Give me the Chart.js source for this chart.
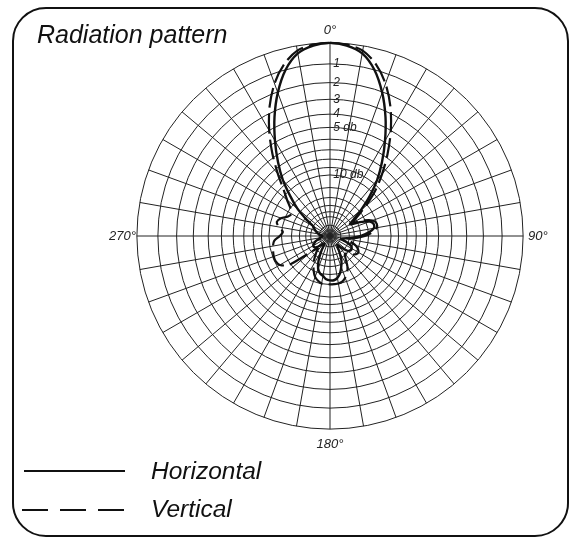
<!DOCTYPE html>
<html>
<head>
<meta charset="utf-8">
<title>Radiation pattern</title>
<script src="https://cdn.jsdelivr.net/npm/chart.js@4.4.1/dist/chart.umd.min.js"></script>
<style>
  html, body { margin: 0; padding: 0; background: #fff; }
  body { width: 572px; height: 539px; position: relative; overflow: hidden; font-family: "Liberation Sans", Arial, sans-serif; color: #111; }
  .frame { position: absolute; left: 12px; top: 7px; width: 557px; height: 530px; box-sizing: border-box; border: 2px solid #111; border-radius: 34px; }
  #chartBox { position: absolute; left: 0; top: 0; width: 572px; height: 539px; }
  .title { position: absolute; left: 37px; top: 22px; font-size: 25px; line-height: 25px; font-style: italic; white-space: nowrap; }
  .legend-text { position: absolute; left: 151px; font-size: 24.5px; line-height: 25px; font-style: italic; white-space: nowrap; }
  .legend-lines { position: absolute; left: 0; top: 450px; }
</style>
</head>
<body>
<div class="frame"></div>
<div id="chartBox"><canvas id="radiationChart" width="572" height="539"></canvas></div>
<div class="title">Radiation pattern</div>
<svg class="legend-lines" width="150" height="80">
  <line x1="24" y1="21" x2="125" y2="21" stroke="#111" stroke-width="2"></line>
  <line x1="22" y1="60" x2="125" y2="60" stroke="#111" stroke-width="2" stroke-dasharray="26 12"></line>
</svg>
<div class="legend-text" style="top:458px">Horizontal</div>
<div class="legend-text" style="top:496px">Vertical</div>

<script>
// angle of each sample, degrees clockwise from 0 (top)
var angles = [0, 5, 10, 15, 20, 25, 30, 35, 40, 45, 50, 55, 60, 65, 70, 75, 80, 85,
    90, 95, 100, 105, 110, 115, 120, 125, 130, 135, 140, 145, 150, 155, 160, 165, 170, 175,
    180, 185, 190, 195, 200, 205, 210, 215, 220, 225, 230, 235, 240, 245, 250, 255, 260, 265,
    270, 275, 280, 285, 290, 295, 300, 305, 310, 315, 320, 325, 330, 335, 340, 345, 350, 355];
var cardinalAngles = [0, 90, 180, 270];

// relative field strength (1 = 0 db)
var horizontal = [1.00, 0.99, 0.96, 0.89, 0.79, 0.68, 0.57, 0.47, 0.38, 0.29, 0.21, 0.15, 0.12, 0.17, 0.22, 0.235, 0.23, 0.20,
    0.16, 0.11, 0.07, 0.06, 0.09, 0.12, 0.13, 0.13, 0.12, 0.09, 0.06, 0.07, 0.10, 0.14, 0.17, 0.20, 0.22, 0.23,
    0.23, 0.225, 0.21, 0.20, 0.18, 0.14, 0.09, 0.05, 0.05, 0.07, 0.09, 0.10, 0.10, 0.09, 0.08, 0.06, 0.05, 0.04,
    0.04, 0.05, 0.06, 0.07, 0.08, 0.09, 0.10, 0.15, 0.22, 0.29, 0.38, 0.47, 0.57, 0.68, 0.79, 0.89, 0.96, 0.99];
var vertical = [1.00, 0.995, 0.975, 0.92, 0.84, 0.74, 0.63, 0.52, 0.42, 0.33, 0.24, 0.17, 0.14, 0.19, 0.235, 0.25, 0.245, 0.22,
    0.18, 0.13, 0.10, 0.11, 0.14, 0.16, 0.17, 0.165, 0.15, 0.13, 0.12, 0.14, 0.18, 0.21, 0.23, 0.245, 0.25, 0.25,
    0.25, 0.25, 0.25, 0.24, 0.225, 0.20, 0.17, 0.14, 0.11, 0.09, 0.13, 0.26, 0.30, 0.31, 0.31, 0.305, 0.30, 0.29,
    0.26, 0.245, 0.27, 0.285, 0.27, 0.24, 0.23, 0.25, 0.29, 0.34, 0.42, 0.52, 0.63, 0.74, 0.84, 0.92, 0.975, 0.995];

// grid circles, in db below maximum, and the labels written on them
var ringDb = [30, 25, 20, 18, 16, 14, 12, 10, 9, 8, 7, 6, 5, 4, 3, 2, 1, 0];
var ringLabels = ['', '', '', '', '', '', '', '10 db', '', '', '', '', '5 db', '4', '3', '2', '1', ''];

var tickFont = { family: "'Liberation Sans', Arial, sans-serif", size: 12, style: 'italic' };
var measureCtx = document.createElement('canvas').getContext('2d');
measureCtx.font = 'italic 12px "Liberation Sans", Arial, sans-serif';

// chart.js centres tick text on the spoke, the drawing has it just right of it
function besideSpoke(text) {
    if (!text) return '';
    var w = measureCtx.measureText(text).width;
    var sp = measureCtx.measureText(' ').width;
    return ' '.repeat(Math.round((w + 6) / sp)) + text;
}

function dbToField(db) {
    return Math.pow(10, -db / 20);
}

// gap between circle and the 0/90/180/270 labels (they sit close in the drawing)
function labelGap(c) {
    var a = angles[c.index];
    if (a === 0 || a === 90) return -3;
    if (a === 180) return -1;
    return -7;
}

var ctx = document.getElementById('radiationChart').getContext('2d');
var patternChart = new Chart(ctx, {
    type: 'radar',
    data: {
        labels: angles,
        datasets: [{
            label: 'Horizontal',
            data: horizontal,
            borderColor: '#111',
            borderWidth: 2.4,
            fill: false,
            pointRadius: 0,
            tension: 0.3
        }, {
            label: 'Vertical',
            data: vertical,
            borderColor: '#111',
            borderWidth: 2.2,
            borderDash: [20, 6],
            fill: false,
            pointRadius: 0,
            tension: 0.3
        }]
    },
    options: {
        responsive: false,
        animation: false,
        layout: { padding: { left: 108, top: 17, right: 22, bottom: 80 } },
        plugins: {
            legend: { display: false },
            tooltip: { enabled: false }
        },
        elements: { line: { borderCapStyle: 'butt' } },
        scales: {
            r: {
                min: 0,
                max: 1,
                startAngle: 0,
                afterBuildTicks: function (scale) {
                    var t = [{ value: 0 }];
                    for (var i = 0; i < ringDb.length; i++) {
                        t.push({ value: dbToField(ringDb[i]) });
                    }
                    scale.ticks = t;
                },
                ticks: {
                    display: true,
                    showLabelBackdrop: false,
                    color: '#222',
                    font: tickFont,
                    callback: function (value, index) {
                        return besideSpoke(ringLabels[index - 1] || '');
                    }
                },
                grid: {
                    circular: true,
                    color: '#222',
                    lineWidth: 1
                },
                angleLines: {
                    color: '#222',
                    lineWidth: function (c) {
                        return c.index % 2 === 0 ? 1 : 0;
                    }
                },
                pointLabels: {
                    display: true,
                    padding: labelGap,
                    color: '#222',
                    font: { family: "'Liberation Sans', Arial, sans-serif", size: 13, style: 'italic' },
                    callback: function (label) {
                        return cardinalAngles.indexOf(label) >= 0 ? label + '°' : '';
                    }
                }
            }
        }
    }
});
</script>
</body>
</html>
